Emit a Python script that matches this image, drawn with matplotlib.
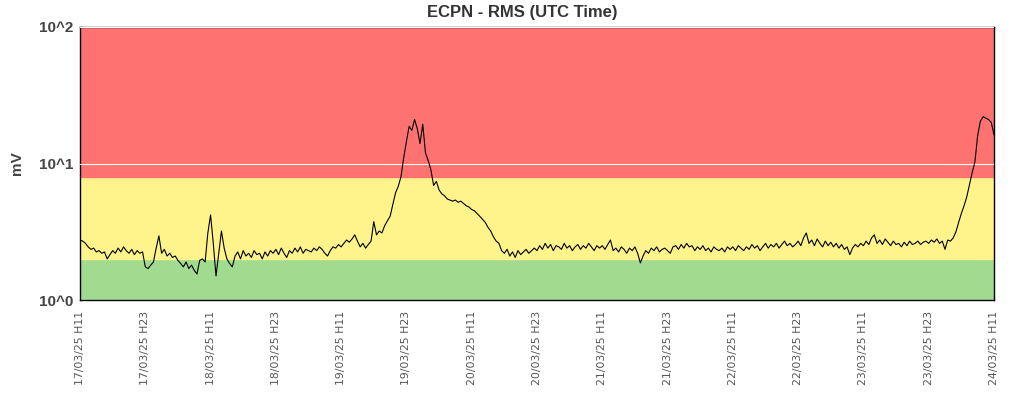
import matplotlib
matplotlib.use("Agg")
import matplotlib.pyplot as plt
import matplotlib.dates as mdates
import pandas as pd

# RMS amplitude (mV), one value every 30 minutes from 17/03/25 11:00 UTC
START = "2025-03-17 11:00"
rms_mv = [
    # 17/03 H11 -> H23
    2.75, 2.7, 2.6, 2.45, 2.35, 2.4, 2.25, 2.3, 2.2, 2.25, 2.0, 2.15,
    2.3, 2.2, 2.4, 2.25, 2.45, 2.3, 2.2, 2.35, 2.15, 2.3, 2.2, 2.25,
    # 17/03 H23 -> 18/03 H11
    1.75, 1.7, 1.8, 1.9, 2.4, 2.95, 2.2, 2.35, 2.1, 2.2, 2.05, 2.1,
    1.95, 1.85, 1.75, 1.9, 1.7, 1.8, 1.65, 1.55, 1.95, 2.0, 1.9, 3.1,
    # 18/03 H11 -> H23
    4.2, 2.6, 1.5, 2.2, 3.2, 2.4, 2.0, 1.85, 1.75, 2.1, 2.25, 2.0,
    2.3, 2.1, 2.2, 2.05, 2.3, 2.15, 2.2, 2.0, 2.25, 2.1, 2.3, 2.2,
    # 18/03 H23 -> 19/03 H11
    2.35, 2.15, 2.4, 2.2, 2.05, 2.3, 2.2, 2.4, 2.25, 2.45, 2.2, 2.35,
    2.3, 2.25, 2.4, 2.3, 2.45, 2.35, 2.2, 2.1, 2.3, 2.45, 2.4, 2.55,
    # 19/03 H11 -> H23
    2.45, 2.6, 2.75, 2.65, 2.8, 3.0, 2.7, 2.45, 2.6, 2.4, 2.55, 2.7,
    3.75, 3.0, 3.2, 3.1, 3.5, 3.8, 4.1, 5.0, 6.1, 6.8, 8.0, 11.0,
    # 19/03 H23 -> 20/03 H11
    14.5, 18.7, 17.5, 21.0, 18.0, 14.0, 19.4, 12.0, 10.5, 9.0, 6.9, 7.4,
    6.4, 6.0, 5.8, 5.5, 5.4, 5.3, 5.4, 5.2, 5.3, 5.1, 4.9, 4.8,
    # 20/03 H11 -> H23
    4.6, 4.5, 4.3, 4.1, 3.9, 3.7, 3.4, 3.2, 2.9, 2.7, 2.6, 2.3,
    2.2, 2.35, 2.1, 2.25, 2.05, 2.3, 2.15, 2.25, 2.35, 2.2, 2.3, 2.4,
    # 20/03 H23 -> 21/03 H11
    2.3, 2.5, 2.35, 2.6, 2.4, 2.55, 2.3, 2.5, 2.45, 2.35, 2.6, 2.4,
    2.5, 2.3, 2.45, 2.55, 2.35, 2.5, 2.4, 2.6, 2.45, 2.3, 2.5, 2.4,
    # 21/03 H11 -> H23
    2.5, 2.35, 2.55, 2.75, 2.3, 2.4, 2.25, 2.45, 2.35, 2.2, 2.4, 2.3,
    2.45, 2.2, 1.87, 2.1, 2.3, 2.2, 2.4, 2.3, 2.45, 2.25, 2.35, 2.4,
    # 21/03 H23 -> 22/03 H11
    2.3, 2.2, 2.45, 2.5, 2.35, 2.55, 2.4, 2.6, 2.45, 2.5, 2.3, 2.45,
    2.35, 2.5, 2.3, 2.4, 2.25, 2.45, 2.35, 2.3, 2.4, 2.25, 2.45, 2.35,
    # 22/03 H11 -> H23
    2.45, 2.3, 2.5, 2.4, 2.3, 2.45, 2.35, 2.55, 2.4, 2.5, 2.3, 2.45,
    2.6, 2.4, 2.55, 2.45, 2.6, 2.4, 2.55, 2.7, 2.5, 2.6, 2.45, 2.55,
    # 22/03 H23 -> 23/03 H11
    2.7, 2.5, 2.85, 3.1, 2.6, 2.75, 2.5, 2.8, 2.6, 2.45, 2.7, 2.5,
    2.65, 2.45, 2.6, 2.4, 2.55, 2.35, 2.45, 2.15, 2.4, 2.55, 2.45, 2.6,
    # 23/03 H11 -> H23
    2.5, 2.7, 2.55, 2.85, 3.0, 2.6, 2.75, 2.55, 2.8, 2.65, 2.5, 2.7,
    2.55, 2.6, 2.45, 2.65, 2.5, 2.7, 2.55, 2.6, 2.7, 2.55, 2.65, 2.7,
    # 23/03 H23 -> 24/03 H11
    2.6, 2.75, 2.65, 2.8, 2.6, 2.7, 2.35, 2.75, 2.7, 2.85, 3.15, 3.7,
    4.3, 4.9, 5.7, 7.0, 8.6, 10.3, 16.0, 20.4, 22.0, 21.5, 21.0, 20.0,
    16.3,
]

# alert bands (mV)
band_green = (1, 2)
band_yellow = (2, 8)
band_red = (8, 100)

times = pd.date_range(START, periods=len(rms_mv), freq="30min")
tick_times = pd.date_range(START, times[-1], freq="12h")

fig = plt.figure(figsize=(10.24, 4), dpi=100)
ax = fig.add_axes([80 / 1024, 100 / 400, 914 / 1024, 273 / 400])

ax.axhspan(*band_green, color="#a1db90", zorder=0)
ax.axhspan(*band_yellow, color="#fff38c", zorder=0)
ax.axhspan(*band_red, color="#ff7272", zorder=0)

ax.set_yscale("log")
ax.set_ylim(1, 100)
ax.set_xlim(times[0], times[-1] + pd.Timedelta(seconds=20))

ax.yaxis.grid(True, which="major", color="white", linewidth=0.8, zorder=1)
ax.minorticks_off()
ax.set_axisbelow(False)

ax.plot(times, rms_mv, color="black", linewidth=0.8, zorder=3)

ax.set_yticks([1, 10, 100])
ax.set_yticklabels(["10^0", "10^1", "10^2"], fontsize=11, fontweight="bold",
                   color="#444444", family="Liberation Sans")

ax.set_xticks(tick_times)
ax.xaxis.set_major_formatter(mdates.DateFormatter("%d/%m/%y H%H"))
plt.setp(ax.get_xticklabels(), rotation=90, fontsize=7.8, color="#555555")

ax.tick_params(axis="both", length=0)
ax.tick_params(axis="x", pad=8)
ax.tick_params(axis="y", pad=5)

for s in ax.spines.values():
    s.set_color("black")
    s.set_linewidth(1.0)

fig.text(17 / 1024, 1 - 163 / 400, "mV", rotation=90, ha="center", va="center",
         fontsize=11, fontweight="bold", color="#444444", family="Liberation Sans")
fig.text(522 / 1024, 1 - 13 / 400, "ECPN - RMS (UTC Time)", ha="center",
         va="center", fontsize=12, fontweight="bold", color="#333333",
         family="Liberation Sans")

fig.savefig("out.png", dpi=100)
